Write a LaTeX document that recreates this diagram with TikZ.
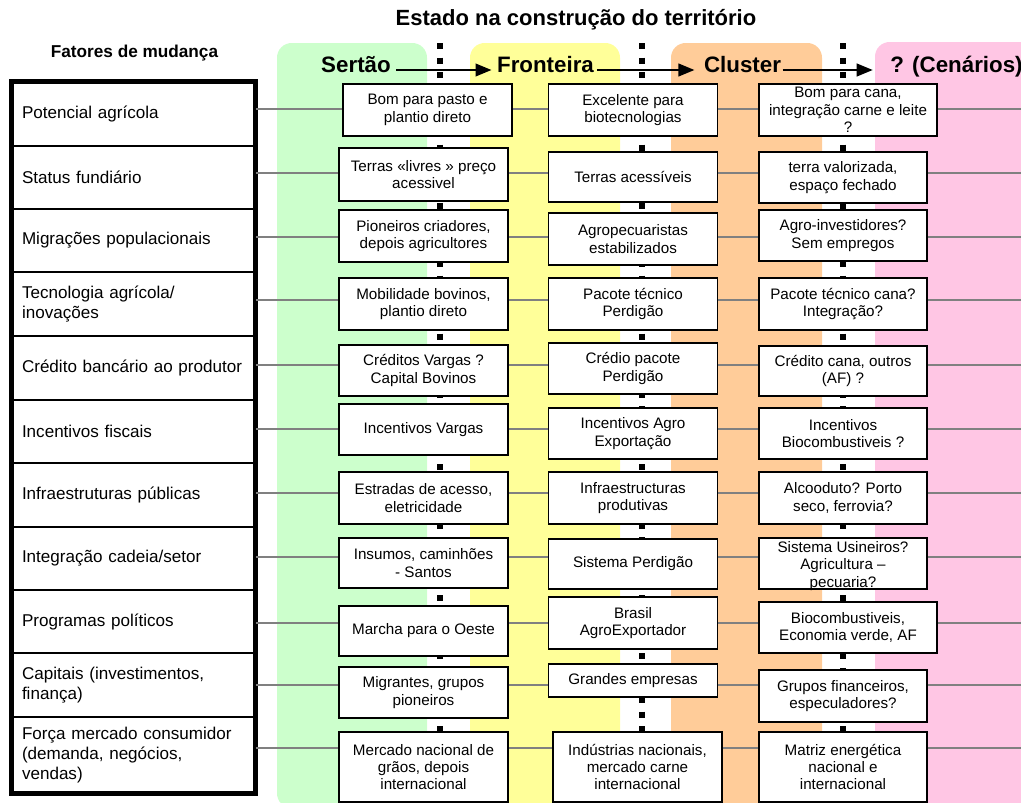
\documentclass[tikz,border=0pt]{standalone}
\usepackage{fontspec}
\setmainfont{Liberation Sans}
\usepackage{tikz}
\usetikzlibrary{arrows.meta,positioning,fit,calc}
\definecolor{SertaoGreen}{HTML}{CCFFCC}
\definecolor{FronteiraYellow}{HTML}{FFFF99}
\definecolor{ClusterOrange}{HTML}{FFCC99}
\definecolor{CenarioPink}{HTML}{FFC6E4}
\definecolor{RowGray}{HTML}{808080}

\begin{document}
\begin{tikzpicture}[
  x=0.75pt, y=-0.75pt,
  panel/.style={rounded corners=11pt},
  cell/.style={draw, line width=1.2pt, fill=white, align=center, inner sep=1pt, minimum width=126.75pt, minimum height=39pt, font=\fontsize{11.4pt}{13pt}\selectfont},
  celltext/.style={align=center, inner sep=0pt, font=\fontsize{11.4pt}{13pt}\selectfont},
  factor/.style={draw, line width=1.2pt, fill=white, align=left, text width=167.25pt, inner xsep=7.5pt, inner ysep=0pt, minimum height=47.25pt, font=\fontsize{12.8pt}{15pt}\selectfont},
  frame/.style={draw, line width=4pt, inner sep=0pt},
  colhead/.style={anchor=base, inner sep=1pt, font=\fontsize{16.75pt}{18pt}\selectfont\bfseries},
  heading/.style={anchor=base, inner sep=1pt, font=\fontsize{12.9pt}{15pt}\selectfont\bfseries},
  divider/.style={line width=4.5pt, dash pattern=on 4.5pt off 6.4pt},
  rowline/.style={draw=RowGray, line width=1.1pt},
  arrow/.style={-{Triangle[length=12pt, width=9.5pt]}, line width=1.5pt}
]
  \useasboundingbox (0,0) rectangle (1021,803);

  % stage panels
  \fill[SertaoGreen, panel] (277,43) rectangle (427,808);
  \fill[FronteiraYellow, panel] (470,43) rectangle (620,808);
  \fill[ClusterOrange, panel] (671,43) rectangle (822,808);
  \fill[CenarioPink, panel] (875,42) rectangle (1040,808);

  % stage dividers
  \foreach \x in {440,642,843}
    \draw[divider] (\x,43) -- (\x,806);

  % factors table
  \node[factor, minimum height=48pt] (fat1) at (133.5,114) {Potencial agrícola};
  \node[factor] (fat2) at (133.5,177.5) {Status fundiário};
  \node[factor] (fat3) at (133.5,240.5) {Migrações populacionais};
  \node[factor, minimum height=48pt] (fat4) at (133.5,304) {Tecnologia agrícola/\\inovações};
  \node[factor, minimum height=48pt] (fat5) at (133.5,368) {Crédito bancário ao produtor};
  \node[factor] (fat6) at (133.5,431.5) {Incentivos fiscais};
  \node[factor, minimum height=48pt] (fat7) at (133.5,495) {Infraestruturas públicas};
  \node[factor] (fat8) at (133.5,558.5) {Integração cadeia/setor};
  \node[factor] (fat9) at (133.5,621.5) {Programas políticos};
  \node[factor, minimum height=48pt] (fat10) at (133.5,685) {Capitais (investimentos,\\finança)};
  \node[factor, minimum height=57pt] (fat11) at (133.5,755) {Força mercado consumidor\\(demanda, negócios,\\vendas)};
  \node[frame, fit=(fat1)(fat11)] (table) {};

  % row lines
  \foreach \i/\y in {1/109,2/173,3/237,4/300,5/365,6/429,7/493,8/557,9/623,10/685,11/748} {
    \coordinate (end\i) at (1021,\y);
    \draw[rowline] (fat\i.east |- end\i) -- (end\i);
  }

  % Sertão
  \node[cell] (se1) at (427.5,110) {Bom para pasto e\\plantio direto};
  \node[cell, minimum height=39.75pt] (se2) at (423.5,174.5) {Terras «livres » preço\\acessivel};
  \node[cell] (se3) at (423.5,236) {Pioneiros criadores,\\depois agricultores};
  \node[cell] (se4) at (423.5,304) {Mobilidade bovinos,\\plantio direto};
  \node[cell, minimum height=38.25pt] (se5) at (423.5,370.5) {Créditos Vargas ?\\Capital Bovinos};
  \node[cell, minimum height=38.25pt] (se6) at (423.5,429.5) {Incentivos Vargas};
  \node[cell] (se7) at (423.5,498) {Estradas de acesso,\\eletricidade};
  \node[cell, minimum height=37.5pt] (se8) at (423.5,563) {Insumos, caminhões\\- Santos};
  \node[cell, minimum height=37.5pt] (se9) at (423.5,631) {Marcha para o Oeste};
  \node[cell, minimum height=38.25pt] (se10) at (423.5,692.5) {Migrantes, grupos\\pioneiros};
  \node[cell, minimum height=52.5pt] (se11) at (423.5,767) {Mercado nacional de\\grãos, depois\\internacional};

  % Fronteira
  \node[cell] (fr1) at (633,110) {Excelente para\\biotecnologias};
  \node[cell, minimum height=37.5pt] (fr2) at (633,177) {Terras acessíveis};
  \node[cell] (fr3) at (633,239) {Agropecuaristas\\estabilizados};
  \node[cell] (fr4) at (633,304) {Pacote técnico\\Perdigão};
  \node[cell, minimum height=38.25pt] (fr5) at (633,368.5) {Crédio pacote\\Perdigão};
  \node[cell, minimum height=38.25pt] (fr6) at (633,433.5) {Incentivos Agro\\Exportação};
  \node[cell] (fr7) at (633,498) {Infraestructuras\\produtivas};
  \node[cell, minimum height=37.5pt] (fr8) at (633,564) {Sistema Perdigão};
  \node[cell] (fr9) at (633,623) {Brasil\\AgroExportador};
  \node[cell, minimum height=24.75pt] (fr10) at (633,680.5) {Grandes empresas};
  \node[cell, minimum height=52.5pt] (fr11) at (637.5,767) {Indústrias nacionais,\\mercado carne\\internacional};

  % Cluster
  \node[cell, minimum width=133.5pt] (cl1) at (848,110) {Bom para cana,\\integração carne e leite\\?};
  \node[cell, minimum width=126pt, minimum height=38.25pt] (cl2) at (843,177.5) {terra valorizada,\\espaço fechado};
  \node[cell, minimum width=126pt, minimum height=38.25pt] (cl3) at (843,235.5) {Agro-investidores?\\Sem empregos};
  \node[cell, minimum width=126pt] (cl4) at (843,304) {Pacote técnico cana?\\Integração?};
  \node[cell, minimum width=126pt, minimum height=37.5pt] (cl5) at (843,371) {Crédito cana, outros\\(AF) ?};
  \node[cell, minimum width=126pt, minimum height=38.25pt] (cl6) at (843,433.5) {Incentivos\\Biocombustiveis ?};
  \node[cell, minimum width=126pt] (cl7) at (843,498) {Alcooduto? Porto\\seco, ferrovia?};
  \node[cell, minimum width=126pt, minimum height=38.25pt] (cl8) at (843,563.5) {};
  \node[celltext] (cl8text) at (843,566) {Sistema Usineiros?\\Agricultura –\\pecuaria?};
  \node[cell, minimum width=133.5pt, minimum height=38.25pt] (cl9) at (848,627.5) {Biocombustiveis,\\Economia verde, AF};
  \node[cell, minimum width=126pt] (cl10) at (843,696) {Grupos financeiros,\\especuladores?};
  \node[cell, minimum width=126pt, minimum height=52.5pt] (cl11) at (843,767) {Matriz energética\\nacional e\\internacional};

  % headings
  \node[colhead, font=\fontsize{16.5pt}{18pt}\selectfont\bfseries] (estado) at (576,25) {Estado na construção do território};
  \node[heading] (fatores) at (134.5,57) {Fatores de mudança};
  \node[colhead] (sertao) at (356,72) {Sertão};
  \node[colhead] (fronteira) at (545.5,72) {Fronteira};
  \node[colhead] (cluster) at (742.5,72) {Cluster};
  \node[colhead] (cenarios) at (956.5,72) {? (Cenários)};

  \draw[arrow] ([xshift=3pt, yshift=1.5pt]sertao.base east) -- ([xshift=-3pt, yshift=1.5pt]fronteira.base west);
  \draw[arrow] ([xshift=1pt, yshift=1.5pt]fronteira.base east) -- ([xshift=-6pt, yshift=1.5pt]cluster.base west);
  \draw[arrow] ([xshift=0pt, yshift=1.5pt]cluster.base east) -- ([xshift=-12pt, yshift=1.5pt]cenarios.base west);
\end{tikzpicture}
\end{document}
